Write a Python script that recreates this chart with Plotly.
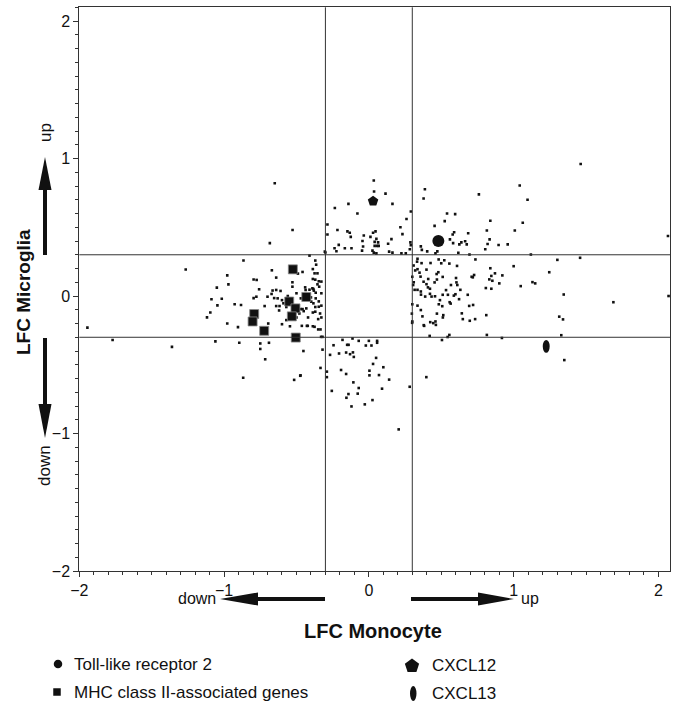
import plotly.graph_objects as go

W, H = 675, 708

# ---------------- data (log fold changes) ----------------
gene_x = [
    -0.684, -0.866, -1.265, -1.944, -1.77, -1.36, -1.06, -0.895, -0.75, -0.69, -0.75, -0.716, -0.868,
    -0.516, -0.474, -0.452, -0.334, -0.29, -0.29, -0.32, -0.65, -0.527,
    -0.978, -0.97, -1.05, -1.087, -1.016, -1.046, -1.095, -1.118, -0.978, -0.904, -0.927, -0.883,
    -0.796, -0.775, -0.67, -0.64, -0.758, -0.796, -0.777, -0.72, -0.70, -0.672, -0.665, -0.64, -0.61,
    -0.654, -0.63, -0.64, -0.617, -0.62, -0.6, -0.59, -0.57, -0.56, -0.695, -0.6, -0.57, -0.545,
    -0.528, -0.528, -0.49, -0.458, -0.5, -0.47, -0.47, -0.458, -0.45, -0.432, -0.437, -0.44, -0.41,
    -0.39, -0.38, -0.41, -0.37, -0.364, -0.387, -0.375, -0.355, -0.387, -0.37, -0.346, -0.328, -0.355,
    -0.343, -0.383, -0.367, -0.328, -0.4, -0.367, -0.398, -0.383, -0.346, -0.37, -0.346, -0.328, -0.37,
    -0.387, -0.337, -0.328, -0.35, -0.387, -0.35, -0.33, -0.428, -0.463, -0.42, -0.48, -0.5, -0.3,
    -0.422, -0.375, -0.334, -0.472, -0.256,
    0.034, 0.036, 0.115, 0.163, -0.141, -0.235, -0.079, -0.286, -0.286, -0.217, -0.148, -0.132, -0.125,
    -0.035, -0.044, 0.011, 0.029, 0.046, 0.052, 0.04, 0.064, 0.057, 0.04, 0.068, 0.025, 0.034, 0.052,
    -0.04, -0.047, -0.208, -0.237, -0.224, -0.166, -0.12, -0.304, 0.133, 0.156, 0.14, 0.163, 0.218,
    0.232, 0.26, 0.29, 0.287, 0.29, 0.225, 0.255,
    -0.32, -0.182, -0.113, -0.07, 0.0, 0.057, 0.057, -0.244, -0.15, -0.14, -0.021, 0.018, -0.268,
    -0.206, -0.157, -0.13, -0.11, -0.104, 0.05, 0.029, 0.1, -0.192, -0.157, 0.004, 0.004, 0.07, 0.14,
    -0.107, -0.07, 0.091, -0.141, -0.077, -0.155, 0.025, -0.12, -0.028, 0.206, 0.282, 0.397,
    0.387, 0.378, 1.042, 0.76, 1.096, 1.463, 0.54, 0.596, 0.524, 0.839, 1.063, 0.454, 1.008, 0.815,
    0.589, 0.579, 0.686, 0.56, 0.582, 0.625, 0.639, 0.665, 0.676, 0.834, 0.82, 0.896, 0.959, 0.804,
    0.359, 0.366, 0.403, 0.473, 0.46, 0.618, 0.695, 0.283, 2.066, 1.119,
    1.302, 1.459, 1.246, 1.0, 1.049, 1.13, 1.149, 1.346, 1.689, 2.07, 1.315, 1.341, 1.329, 1.35,
    0.815, 0.919, 0.556, 0.544, 0.505, 0.42, 0.299, 0.297, 0.3,
    0.336, 0.333, 0.364, 0.426, 0.482, 0.521, 0.5, 0.556, 0.609, 0.736, 0.309, 0.336, 0.32, 0.35,
    0.398, 0.357, 0.3, 0.41, 0.468, 0.48, 0.51, 0.47, 0.454, 0.31, 0.306, 0.316, 0.336, 0.359, 0.378,
    0.398, 0.408, 0.422, 0.36, 0.422, 0.433, 0.457, 0.51, 0.533, 0.567, 0.602, 0.605, 0.611, 0.632,
    0.598, 0.587, 0.623, 0.546, 0.491, 0.558, 0.565, 0.483, 0.507, 0.683, 0.693, 0.72, 0.734, 0.697,
    0.649, 0.642, 0.514, 0.511, 0.47, 0.336, 0.359, 0.37, 0.424, 0.445, 0.463, 0.46, 0.382, 0.811,
    0.839, 0.871, 0.846, 0.832, 0.853, 0.922, 0.901, 0.718, 0.727, 0.71, 0.808, 0.846, 0.389, 0.379, 0.3,
]
gene_y = [
    0.385, 0.258, 0.193, -0.23, -0.32, -0.37, -0.33, -0.34, -0.345, -0.34, -0.385, -0.46, -0.594,
    -0.61, -0.58, -0.4, -0.523, -0.55, -0.59, -0.39, 0.82, 0.48,
    0.15, 0.085, 0.061, -0.024, -0.02, -0.068, -0.12, -0.155, -0.2, -0.226, -0.06, -0.065,
    0.12, 0.117, 0.187, 0.134, 0.049, -0.015, -0.005, -0.073, -0.005, 0.015, 0.04, 0.044, 0.037,
    -0.015, -0.017, -0.073, -0.073, -0.105, -0.03, -0.053, -0.08, 0.0, -0.2, -0.205, -0.175, -0.22,
    0.1, 0.068, 0.163, 0.175, 0.02, -0.017, -0.095, -0.095, -0.11, -0.09, 0.044, 0.063, 0.046,
    0.056, 0.039, 0.294, 0.258, 0.228, 0.196, 0.165, 0.165, 0.124, 0.119, 0.107, 0.105, 0.085,
    0.068, 0.051, 0.024, 0.02, -0.01, -0.017, -0.041, -0.053, -0.039, -0.08, -0.078, -0.07, -0.114,
    -0.12, -0.127, -0.156, -0.168, -0.22, -0.243, -0.297, -0.217, -0.217, -0.156, -0.127, -0.156, 0.317,
    -0.217, -0.224, -0.243, -0.577, -0.69,
    0.84, 0.76, 0.745, 0.67, 0.67, 0.64, 0.60, 0.52, 0.447, 0.48, 0.47, 0.46, 0.43,
    0.44, 0.40, 0.43, 0.46, 0.47, 0.416, 0.394, 0.39, 0.365, 0.365, 0.365, 0.33, 0.316, 0.31,
    0.36, 0.33, 0.372, 0.348, 0.326, 0.348, 0.348, 0.323, 0.38, 0.414, 0.323, 0.316, 0.50,
    0.45, 0.56, 0.615, 0.39, 0.37, 0.31, 0.31,
    -0.297, -0.319, -0.309, -0.326, -0.326, -0.326, -0.34, -0.358, -0.355, -0.355, -0.36, -0.36, -0.428,
    -0.418, -0.411, -0.423, -0.41, -0.443, -0.45, -0.494, -0.518, -0.538, -0.567, -0.543, -0.577, -0.575, -0.608,
    -0.628, -0.669, -0.674, -0.713, -0.71, -0.74, -0.757, -0.803, -0.788, -0.97, -0.66, -0.59,
    0.777, 0.709, 0.804, 0.739, 0.70, 0.96, 0.60, 0.596, 0.545, 0.547, 0.533, 0.51, 0.477, 0.477,
    0.464, 0.447, 0.457, 0.412, 0.385, 0.376, 0.39, 0.398, 0.376, 0.412, 0.378, 0.371, 0.376, 0.34,
    0.361, 0.336, 0.325, 0.325, 0.31, 0.315, 0.302, 0.34, 0.437, 0.302,
    0.263, 0.278, 0.173, 0.217, 0.072, 0.101, 0.092, 0.011, -0.045, 0.0, -0.15, -0.17, -0.285, -0.466,
    -0.283, -0.305, -0.283, -0.298, -0.32, -0.29, -0.195, -0.128, -0.06,
    0.271, 0.25, 0.239, 0.24, 0.266, 0.26, 0.238, 0.236, 0.219, 0.266, 0.222, 0.195, 0.186, 0.17,
    0.192, 0.141, 0.14, 0.124, 0.16, 0.173, 0.139, 0.12, 0.099, 0.1, 0.08, 0.045, 0.045, 0.033, 0.104,
    0.086, 0.063, 0.053, 0.01, 0.016, -0.004, -0.002, 0.009, 0.043, 0.08, 0.131, 0.099, 0.08, 0.045,
    0.013, 0.003, -0.023, 0.009, -0.03, -0.045, -0.055, -0.06, -0.074, 0.009, -0.072, -0.065, -0.168, -0.18,
    -0.168, -0.126, -0.139, -0.156, -0.128, -0.07, -0.102, -0.148, -0.19, -0.197, -0.21, -0.185, -0.217, -0.139,
    0.202, 0.165, 0.146, 0.121, 0.111, 0.15, 0.092, 0.136, 0.153, 0.14, 0.058, 0.053, -0.004, -0.212, -0.185,
]

tlr2_x = [0.48]
tlr2_y = [0.40]
mhc_x = [-0.525, -0.432, -0.55, -0.507, -0.532, -0.792, -0.803, -0.723, -0.505]
mhc_y = [0.194, -0.007, -0.04, -0.09, -0.148, -0.131, -0.185, -0.253, -0.302]
cxcl12_x = [0.029]
cxcl12_y = [0.69]
cxcl13_x = [1.225]
cxcl13_y = [-0.366]

thresholds = [-0.3, 0.3]
x_ticks = [-2, -1, 0, 1, 2]
y_ticks = [-2, -1, 0, 1, 2]
legend_labels = ["Toll-like receptor 2", "MHC class II-associated genes", "CXCL12", "CXCL13"]

# ---------------- styling ----------------
FONT = "Liberation Sans, Arial, sans-serif"
INK = "#111111"
LINE = "#333333"

# plot-area placement in pixels
PL, PR, PT, PB = 79.3, 670.0, 7.3, 571.0

fig = go.Figure()

fig.add_trace(go.Scatter(x=gene_x, y=gene_y, mode="markers",
                         marker=dict(size=2.6, color=INK, symbol="square", line=dict(width=0), opacity=1),
                         showlegend=False, hoverinfo="skip"))
fig.add_trace(go.Scatter(x=mhc_x, y=mhc_y, mode="markers",
                         marker=dict(size=9, color=INK, symbol="square", opacity=1,
                                     line=dict(width=0.8, color="#888")),
                         showlegend=False))
fig.add_trace(go.Scatter(x=tlr2_x, y=tlr2_y, mode="markers",
                         marker=dict(size=12, color=INK, symbol="circle", line=dict(width=0), opacity=1),
                         showlegend=False))
fig.add_trace(go.Scatter(x=cxcl12_x, y=cxcl12_y, mode="markers",
                         marker=dict(size=11, color=INK, symbol="pentagon", line=dict(width=0), opacity=1),
                         showlegend=False))

# CXCL13 drawn as a vertical ellipse
EHW, EHH = 0.024, 0.047
shapes = []
for cx, cy in zip(cxcl13_x, cxcl13_y):
    shapes.append(dict(type="circle", xref="x", yref="y",
                       x0=cx - EHW, x1=cx + EHW, y0=cy - EHH, y1=cy + EHH,
                       fillcolor=INK, line=dict(width=0)))

# threshold lines
for t in thresholds:
    shapes.append(dict(type="line", xref="x", yref="y domain", x0=t, x1=t, y0=0, y1=1,
                       line=dict(color=LINE, width=1)))
    shapes.append(dict(type="line", xref="x domain", yref="y", x0=0, x1=1, y0=t, y1=t,
                       line=dict(color=LINE, width=1)))


# arrows in pixel space (x2/y2 pixel overlay)
def arrow(xt, yt, xh, yh, head_len, head_half, shaft=4):
    import math
    dx, dy = xh - xt, yh - yt
    L = math.hypot(dx, dy)
    ux, uy = dx / L, dy / L
    bx, by = xh - ux * head_len, yh - uy * head_len
    px_, py_ = -uy, ux
    out = [dict(type="line", xref="x2", yref="y2", x0=xt, y0=yt, x1=bx + ux * 2, y1=by + uy * 2,
                line=dict(color=INK, width=shaft))]
    p = (f"M {bx + px_ * head_half},{by + py_ * head_half} "
         f"L {xh},{yh} L {bx - px_ * head_half},{by - py_ * head_half} Z")
    out.append(dict(type="path", xref="x2", yref="y2", path=p, fillcolor=INK, line=dict(width=0)))
    return out


shapes += arrow(45, 255, 45, 157, 33, 6.5)
shapes += arrow(45, 338, 45, 438, 34, 6.5)
shapes += arrow(325, 599, 220, 599, 38, 6.5)
shapes += arrow(411, 599, 514, 599, 36, 6.5)

# legend ellipse symbol
shapes.append(dict(type="circle", xref="x2", yref="y2", x0=410, x1=416.5, y0=686, y1=701,
                   fillcolor=INK, line=dict(width=0)))

# legend symbols (pixel overlay)
for sx, sy, ss, sym in [(58, 664, 8.5, "circle"), (57, 692, 7.5, "square"), (412, 666, 15, "pentagon")]:
    fig.add_trace(go.Scatter(x=[sx], y=[sy], xaxis="x2", yaxis="y2", mode="markers",
                             marker=dict(size=ss, symbol=sym, color=INK, line=dict(width=0), opacity=1),
                             showlegend=False, hoverinfo="skip"))

ann = []


def txt(s, x, y, size=16, bold=False, angle=0, xanchor="center"):
    ann.append(dict(text=f"<b>{s}</b>" if bold else s, x=x, y=y, xref="x2", yref="y2",
                    showarrow=False, textangle=angle, xanchor=xanchor, yanchor="middle",
                    font=dict(family=FONT, size=size, color=INK)))


txt("up", 45, 133, size=17, angle=-90)
txt("down", 44, 466, size=17, angle=-90)
txt("down", 218, 598, xanchor="right")
txt("up", 519, 598, xanchor="left")
txt("LFC Monocyte", 373, 631, size=20, bold=True)
txt("LFC Microglia", 23, 292, size=19, bold=True, angle=-90)
txt(legend_labels[0], 72, 664, size=17, xanchor="left")
txt(legend_labels[1], 72, 692, size=17, xanchor="left")
txt(legend_labels[2], 430, 665, size=17, xanchor="left")
txt(legend_labels[3], 430, 693, size=17, xanchor="left")

axis_common = dict(showline=True, linecolor=LINE, linewidth=1, mirror=True,
                   ticks="outside", ticklen=5, tickwidth=1, tickcolor=LINE,
                   showgrid=False, zeroline=False, automargin=False,
                   tickfont=dict(family=FONT, size=16, color=INK),
                   minor=dict(dtick=0.1, ticks="outside", ticklen=3, tickwidth=1, tickcolor=LINE, showgrid=False))

fig.update_layout(
    width=W, height=H,
    margin=dict(l=0, r=0, t=0, b=0, autoexpand=False),
    paper_bgcolor="white", plot_bgcolor="rgba(0,0,0,0)",
    xaxis=dict(domain=[PL / W, PR / W], range=[-2, 2.08], tickmode="array", tickvals=x_ticks,
               anchor="y", **axis_common),
    yaxis=dict(domain=[1 - PB / H, 1 - PT / H], range=[-2, 2.1], tickmode="array", tickvals=y_ticks,
               anchor="x", **axis_common),
    xaxis2=dict(domain=[0, 1], range=[0, W], visible=False, anchor="y2", fixedrange=True, automargin=False),
    yaxis2=dict(domain=[0, 1], range=[H, 0], visible=False, anchor="x2", fixedrange=True, automargin=False),
    shapes=shapes,
    annotations=ann,
    showlegend=False,
)

fig.write_html("out.html", config={"displayModeBar": False},
               post_script="document.body.style.margin='0';")
